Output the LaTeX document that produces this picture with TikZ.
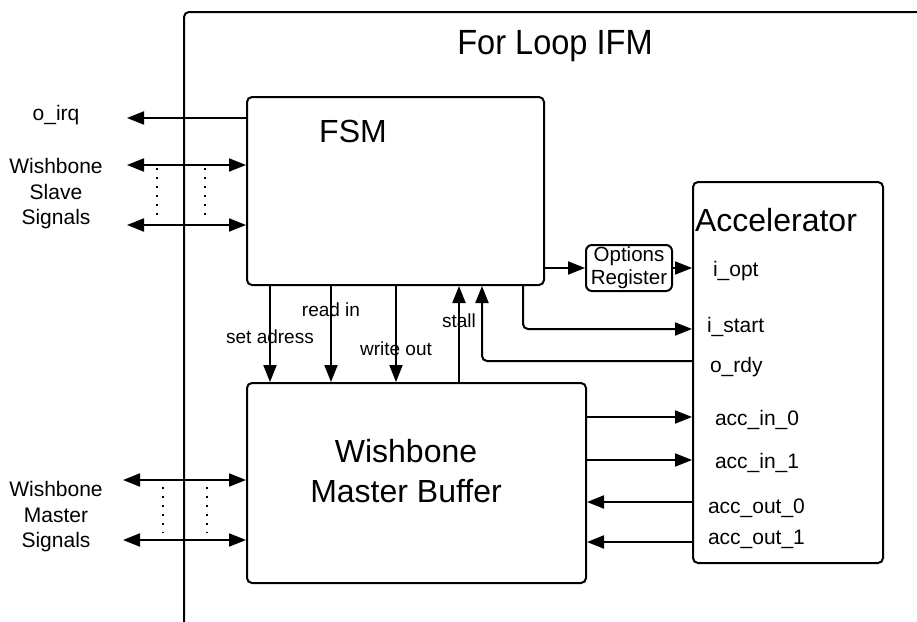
\documentclass[tikz,border=0pt]{standalone}
\usepackage{fontspec}
\setmainfont{Liberation Sans}
\usetikzlibrary{arrows.meta}
\begin{document}
\begin{tikzpicture}[x=1pt,y=-1pt,line width=2pt,
  box/.style={draw,rounded corners=5pt,inner sep=0pt},
  arr/.style={-{Triangle[length=17pt,width=13pt]}},
  dbl/.style={{Triangle[length=17pt,width=13pt]}-{Triangle[length=17pt,width=13pt]}},
  lbl/.style={font=\fontsize{21}{25.5}\selectfont,inner sep=0pt},
  clbl/.style={font=\fontsize{19}{22}\selectfont,inner sep=0pt},
  big/.style={font=\fontsize{32}{40}\selectfont,inner sep=0pt},
  dotline/.style={line width=2pt,dash pattern=on 2pt off 7pt}]
\useasboundingbox (0,0) rectangle (917,621);
\clip (0,0) rectangle (917,621);
% outer frame
\draw[rounded corners=5pt] (184,640) -- (184,12) -- (940,12);
\node[inner sep=0pt,font=\fontsize{35}{40}\selectfont,anchor=base] (title) at (555,54) {\scalebox{0.93}[1]{For Loop IFM}};
% blocks
\node[box,minimum width=297pt,minimum height=188pt] (fsm) at (395.5,191) {};
\node[big,anchor=base] (fsml) at (353,142) {FSM};
\node[box,minimum width=190pt,minimum height=381pt] (acc) at (788,372.5) {};
\node[big,anchor=base] (accl) at (776,231) {Accelerator};
\node[box,minimum width=339pt,minimum height=200pt] (wmb) at (416.5,483) {};
\node[big,align=center,anchor=north] (wmbl) at (406,438.5) {Wishbone\\Master Buffer};
\node[box,rounded corners=6pt,minimum width=86pt,minimum height=46pt,align=center,font=\fontsize{20.5}{23}\selectfont] (opt) at (629,268) {Options\\Register};
% side labels
\node[lbl,anchor=base] (oirq) at (56,120) {o\_irq};
\node[lbl,align=center,anchor=north] (wsl) at (56,157.5) {Wishbone\\Slave\\Signals};
\node[lbl,align=center,anchor=north] (wml) at (56,480.5) {Wishbone\\Master\\Signals};
% accelerator port labels
\node[lbl,anchor=base west] (lopt) at (712,276) {i\_opt};
\node[lbl,anchor=base west] (lstart) at (706,332) {i\_start};
\node[lbl,anchor=base west] (lrdy) at (709,372) {o\_rdy};
\node[lbl,anchor=base west] (lin0) at (714,425) {acc\_in\_0};
\node[lbl,anchor=base west] (lin1) at (714,468) {acc\_in\_1};
\node[lbl,anchor=base west] (lout0) at (707,513) {acc\_out\_0};
\node[lbl,anchor=base west] (lout1) at (707,544) {acc\_out\_1};
% connector labels
\node[clbl,anchor=base] (lsa) at (270,343) {set adress};
\node[clbl,anchor=base] (lri) at (331,316) {read in};
\node[clbl,anchor=base] (lwo) at (396,355) {write out};
\node[clbl,anchor=base] (lst) at (459,327) {stall};
% left signals
\coordinate (oirqE) at (127,118);
\draw[arr] (fsm.west |- oirqE) -- (oirqE);
\coordinate (ws1) at (127,165);
\coordinate (ws2) at (127,225);
\draw[dbl] (ws1) -- (fsm.west |- ws1);
\draw[dbl] (ws2) -- (fsm.west |- ws2);
\coordinate (wm1) at (123,480);
\coordinate (wm2) at (123,540);
\draw[dbl] (wm1) -- (wmb.west |- wm1);
\draw[dbl] (wm2) -- (wmb.west |- wm2);
\draw[dotline] (157,168) -- (157,221);
\draw[dotline] (205,168) -- (205,221);
\draw[dotline] (163,487) -- (163,533);
\draw[dotline] (207,487) -- (207,533);
% FSM <-> WMB
\coordinate (sa) at (270,0);
\coordinate (ri) at (331,0);
\coordinate (wo) at (396,0);
\coordinate (st) at (459,0);
\draw[arr] (fsm.south -| sa) -- (wmb.north -| sa);
\draw[arr] (fsm.south -| ri) -- (wmb.north -| ri);
\draw[arr] (fsm.south -| wo) -- (wmb.north -| wo);
\draw[arr] (wmb.north -| st) -- (fsm.south -| st);
% FSM <-> accelerator
\draw[arr] (fsm.east |- opt.west) -- (opt.west);
\draw[arr] (opt.east) -- (acc.west |- opt.east);
\coordinate (is) at (523,329);
\draw[arr,rounded corners=5pt] (fsm.south -| is) -- (is) -- (acc.west |- is);
\coordinate (or) at (482,361);
\draw[arr,rounded corners=5pt] (acc.west |- or) -- (or) -- (fsm.south -| or);
% WMB <-> accelerator
\coordinate (ai0) at (0,417);
\coordinate (ai1) at (0,460);
\coordinate (ao0) at (0,502);
\coordinate (ao1) at (0,542);
\draw[arr] (wmb.east |- ai0) -- (acc.west |- ai0);
\draw[arr] (wmb.east |- ai1) -- (acc.west |- ai1);
\draw[arr] (acc.west |- ao0) -- (wmb.east |- ao0);
\draw[arr] (acc.west |- ao1) -- (wmb.east |- ao1);
\end{tikzpicture}
\end{document}
